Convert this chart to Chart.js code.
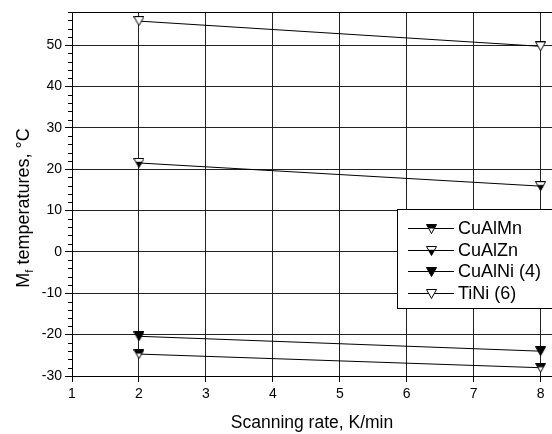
<!DOCTYPE html>
<html>
<head>
<meta charset="utf-8">
<script src="https://cdn.jsdelivr.net/npm/chart.js@4"></script>
<style>
  html, body { margin: 0; padding: 0; background: #fff; }
  canvas { display: block; }
</style>
</head>
<body>
<canvas id="mfChart" width="552" height="434"></canvas>
<script>
// Scanning rates (K/min) and Mf temperatures (°C) per alloy
const rates = [2, 8];
const cuAlMn = [-24.7, -28.0];
const cuAlZn = [21.5, 15.9];
const cuAlNi = [-20.4, -24.0];
const tiNi = [55.8, 49.7];

const seriesLabels = ['CuAlMn', 'CuAlZn', 'CuAlNi (4)', 'TiNi (6)'];
const xTicks = [1, 2, 3, 4, 5, 6, 7, 8];
const yTicks = [-30, -20, -10, 0, 10, 20, 30, 40, 50];

const FONT = '"Liberation Sans", Arial, sans-serif';

// Down-pointing triangle marker; fill = 'white' | 'black' | 'top' | 'bottom'
function makeMarker(fill) {
    const w = 11, h = 10;
    const c = document.createElement('canvas');
    c.width = w;
    c.height = h;
    const g = c.getContext('2d');
    const tri = () => {
        g.beginPath();
        g.moveTo(0.5, 0.5);
        g.lineTo(w - 0.5, 0.5);
        g.lineTo(w / 2, h - 0.5);
        g.closePath();
    };
    tri();
    g.fillStyle = fill === 'black' ? '#000' : '#fff';
    g.fill();
    if (fill === 'top' || fill === 'bottom') {
        g.save();
        tri();
        g.clip();
        g.fillStyle = '#000';
        if (fill === 'top') g.fillRect(0, 0, w, h * 0.45);
        else g.fillRect(0, h * 0.38, w, h);
        g.restore();
    }
    tri();
    g.strokeStyle = '#000';
    g.lineWidth = 1;
    g.stroke();
    return c;
}

const markers = [makeMarker('top'), makeMarker('bottom'), makeMarker('black'), makeMarker('white')];
const values = [cuAlMn, cuAlZn, cuAlNi, tiNi];

const datasets = values.map((vals, i) => ({
    label: seriesLabels[i],
    data: rates.map((r, j) => ({ x: r, y: vals[j] })),
    borderColor: '#000',
    borderWidth: 1,
    pointStyle: markers[i],
    pointRadius: 5,
    pointHoverRadius: 5,
    tension: 0
}));

// frame top, minor y ticks, axis titles and the boxed legend
const decorations = {
    id: 'decorations',
    afterDraw(chart) {
        const ctx = chart.ctx;
        const area = chart.chartArea;
        const yScale = chart.scales.y;
        ctx.save();
        ctx.strokeStyle = '#000';
        ctx.lineWidth = 1;

        // top frame line
        ctx.beginPath();
        ctx.moveTo(area.left, Math.round(area.top) + 0.5);
        ctx.lineTo(area.right, Math.round(area.top) + 0.5);
        ctx.stroke();

        // minor ticks every 2 °C
        for (let v = -30; v <= yScale.max; v += 2) {
            if (v % 10 === 0) continue;
            const py = Math.round(yScale.getPixelForValue(v)) + 0.5;
            ctx.beginPath();
            ctx.moveTo(area.left - 4, py);
            ctx.lineTo(area.left, py);
            ctx.stroke();
        }

        // x-axis title
        ctx.fillStyle = '#000';
        ctx.font = '17.5px ' + FONT;
        ctx.textAlign = 'center';
        ctx.textBaseline = 'middle';
        ctx.fillText('Scanning rate, K/min', (area.left + area.right) / 2, 423);

        // y-axis title with subscript f
        ctx.save();
        ctx.translate(29, 208);
        ctx.rotate(-Math.PI / 2);
        ctx.textBaseline = 'alphabetic';
        ctx.textAlign = 'left';
        const mainFont = '18px ' + FONT;
        const subFont = '11px ' + FONT;
        ctx.font = mainFont;
        const wM = ctx.measureText('M').width;
        const rest = ' temperatures, °C';
        const wRest = ctx.measureText(rest).width;
        ctx.font = subFont;
        const wF = ctx.measureText('f').width;
        let x = -(wM + wF + wRest) / 2;
        ctx.font = mainFont;
        ctx.fillText('M', x, 0);
        x += wM;
        ctx.font = subFont;
        ctx.fillText('f', x, 4);
        x += wF;
        ctx.font = mainFont;
        ctx.fillText(rest, x, 0);
        ctx.restore();

        // legend box
        const bx = 397.5, by = 209.5, bw = 170, bh = 99;
        ctx.fillStyle = '#fff';
        ctx.fillRect(bx, by, bw, bh);
        ctx.strokeRect(bx, by, bw, bh);
        ctx.font = '18px ' + FONT;
        ctx.textAlign = 'left';
        ctx.textBaseline = 'middle';
        chart.data.datasets.forEach((ds, i) => {
            const ry = Math.round(228 + i * 21.5) + 0.5;
            ctx.beginPath();
            ctx.moveTo(408, ry);
            ctx.lineTo(454, ry);
            ctx.stroke();
            const m = ds.pointStyle;
            ctx.drawImage(m, Math.round(431 - m.width / 2), Math.round(ry - m.height / 2));
            ctx.fillStyle = '#000';
            ctx.fillText(ds.label, 458, ry + 1);
        });
        ctx.restore();
    }
};

new Chart(document.getElementById('mfChart'), {
    type: 'line',
    data: { datasets: datasets },
    options: {
        responsive: false,
        animation: false,
        devicePixelRatio: 1,
        layout: { autoPadding: false, padding: { top: 12, right: 0, left: 0, bottom: 0 } },
        plugins: {
            legend: { display: false },
            tooltip: { enabled: false }
        },
        scales: {
            x: {
                type: 'linear',
                min: 1,
                max: 8.17,
                afterBuildTicks: scale => { scale.ticks = xTicks.map(v => ({ value: v })); },
                afterFit: scale => { scale.height = 58; },
                border: { color: '#000', width: 1 },
                grid: { color: '#222', lineWidth: 1, tickLength: 6, tickColor: '#000' },
                ticks: { color: '#000', padding: 4, maxRotation: 0, font: { family: FONT, size: 14 } }
            },
            y: {
                type: 'linear',
                min: -30,
                max: 58,
                afterBuildTicks: scale => { scale.ticks = yTicks.map(v => ({ value: v })); },
                afterFit: scale => { scale.width = 72; },
                border: { color: '#000', width: 1 },
                grid: { color: '#222', lineWidth: 1, tickLength: 7, tickColor: '#000' },
                ticks: { color: '#000', padding: 3, font: { family: FONT, size: 14 } }
            }
        }
    },
    plugins: [decorations]
});
</script>
</body>
</html>
